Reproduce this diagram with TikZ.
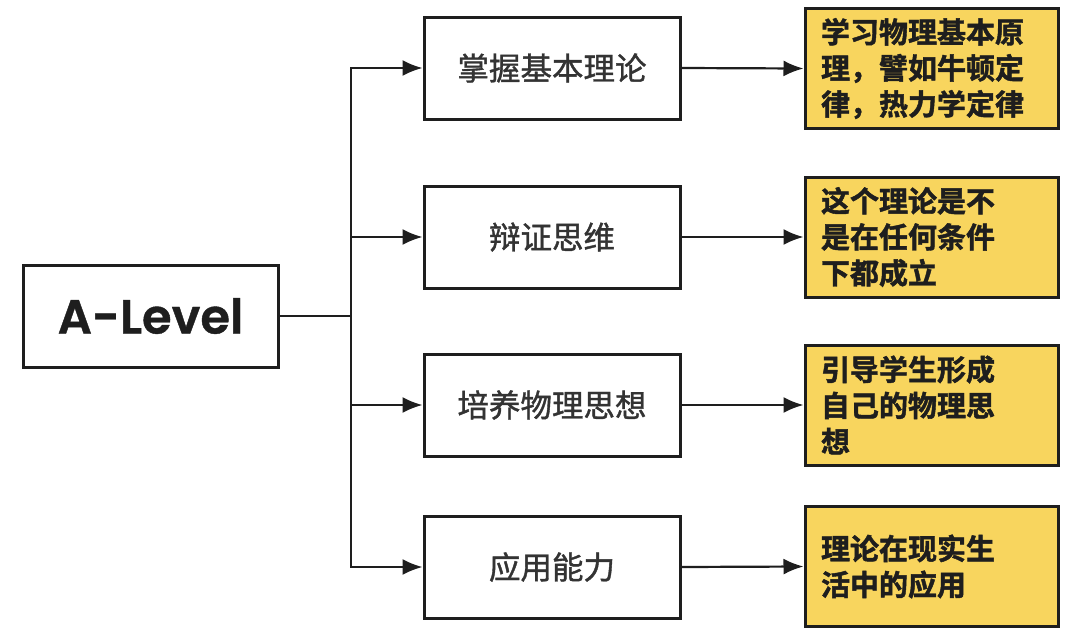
\documentclass[tikz,border=0pt]{standalone}
\usepackage{fontspec}
\newfontfamily\cjk{Noto Sans CJK SC}[FakeBold=1.2]
\newfontfamily\cjkb{Noto Sans CJK SC Bold}[FakeBold=1.5]
\newfontfamily\latinb{Poppins SemiBold}[FakeBold=0.8]
\usetikzlibrary{arrows.meta}
\definecolor{boxline}{HTML}{1E1E1E}
\definecolor{note}{HTML}{F8D55E}
\definecolor{midtext}{HTML}{333333}
\tikzset{
  rootbox/.style={draw=boxline, line width=3pt, fill=white, minimum width=255pt, minimum height=102pt, inner sep=0pt, font=\latinb\fontsize{48}{52}\selectfont, text=boxline},
  topicbox/.style={draw=boxline, line width=3pt, fill=white, minimum width=256pt, minimum height=102pt, inner sep=0pt, font=\cjk\fontsize{31.5}{36}\selectfont, text=midtext},
  notebox/.style={draw=boxline, line width=3pt, fill=note, minimum width=253pt, minimum height=120pt, inner xsep=16pt, inner ysep=0pt, text width=221pt, align=left, font=\cjkb\fontsize{29}{36}\selectfont, text=boxline},
  link/.style={draw=boxline, line width=2.2pt},
  arr/.style={link, -{Latex[length=20pt,width=16pt]}},
}
\begin{document}
\begin{tikzpicture}[x=1pt,y=-1pt]
\useasboundingbox (0,0) rectangle (1080,641);
\fill[white] (0,0) rectangle (1080,641);
\node[rootbox] (root) at (150.5,316) {A-Level};
\node[topicbox] (m1) at (552,68) {掌握基本理论};
\node[topicbox] (m2) at (552,237) {辩证思维};
\node[topicbox] (m3) at (552,405) {培养物理思想};
\node[topicbox] (m4) at (552,567) {应用能力};
\node[notebox] (n1) at (931.5,68.5) {学习物理基本原\\理，譬如牛顿定\\律，热力学定律};
\node[notebox] (n2) at (931.5,237) {这个理论是不\\是在任何条件\\下都成立};
\node[notebox] (n3) at (931.5,405) {引导学生形成\\自己的物理思\\想};
\node[notebox] (n4) at (931.5,566.5) {理论在现实生\\活中的应用};
\coordinate (j) at (351,316);
\draw[link] (root.east) -- (j);
\draw[arr] (j) |- (m1.west);
\draw[arr] (j) |- (m2.west);
\draw[arr] (j) |- (m3.west);
\draw[arr] (j) |- (m4.west);
\draw[arr] (m1.east) -- (n1.west);
\draw[arr] (m2.east) -- (n2.west);
\draw[arr] (m3.east) -- (n3.west);
\draw[arr] (m4.east) -- (n4.west);
\end{tikzpicture}
\end{document}
